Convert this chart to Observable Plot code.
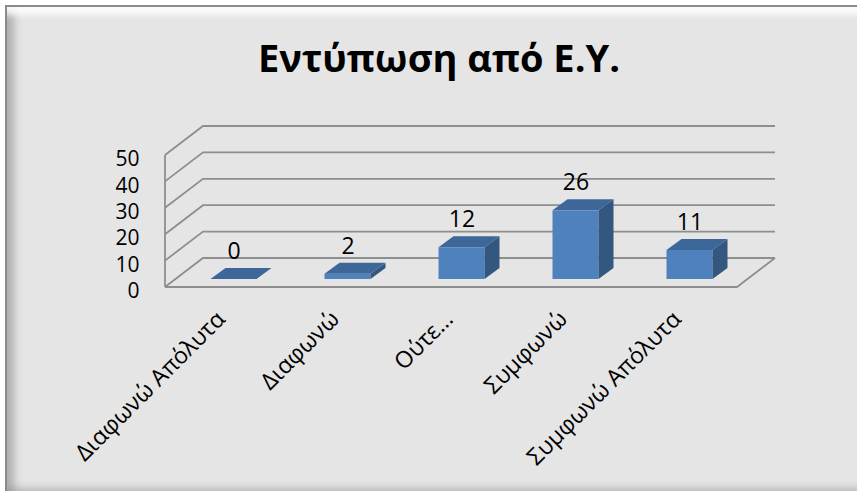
<!DOCTYPE html>
<html>
<head>
<meta charset="utf-8">
<script src="https://cdn.jsdelivr.net/npm/d3@7"></script>
<script src="https://cdn.jsdelivr.net/npm/@observablehq/plot@0.6"></script>
<style>
  html, body { margin: 0; padding: 0; background: #ffffff; }
  #wrap { position: relative; width: 857px; height: 491px; overflow: hidden; font-family: "Open Sans", sans-serif; }
  #frame {
    position: absolute; left: 5px; top: 5px; width: 860px; height: 484px;
    background: #e5e5e5;
    border-left: 2px solid #8a8a8a; border-top: 2px solid #8a8a8a;
    box-shadow: inset 0 14px 6px -6px rgba(255,255,255,0.85),
                inset 13px 0 8px -6px rgba(130,130,130,0.55),
                inset 0 -8px 6px -4px rgba(150,150,150,0.45);
  }
  #title {
    position: absolute; left: 0; top: 38px; width: 878px; text-align: center;
    font-weight: bold; font-size: 38px; line-height: 38px; color: #000;
  }
  #chart { position: absolute; left: 0; top: 95px; }
</style>
</head>
<body>
<div id="wrap">
  <div id="frame"></div>
  <div id="title">Εντύπωση από Ε.Υ.</div>
  <div id="chart"></div>
</div>
<script>
const titleText = "Εντύπωση από Ε.Υ.";
const categories = ["Διαφωνώ Απόλυτα", "Διαφωνώ", "Ούτε…", "Συμφωνώ", "Συμφωνώ Απόλυτα"];
const values = [0, 2, 12, 26, 11];
const yTicks = [0, 10, 20, 30, 40, 50];

const data = categories.map((c, i) => ({cat: c, value: values[i]}));

// 3D look (pixel offsets)
const wallDx = 38, wallDy = -29;       // depth of floor / side wall
const barOx = 10.5, barOy = -8;        // bar front face shift into the floor
const barDx = 15, barDy = -11;         // bar depth
const barInset = 34;
const gridColor = "#8e8e8e";
const frontColor = "#4f81bd", topColor = "#3c6798", sideColor = "#33577f";

function walls(index, scales, values_, dim) {
  const {x, y} = scales;
  const x0 = dim.marginLeft, x1 = dim.width - dim.marginRight;
  const g = d3.create("svg:g").attr("fill", "none").attr("stroke", gridColor).attr("stroke-width", 1.8);
  for (const t of yTicks) {
    const yy = y(t);
    g.append("path").attr("d", `M${x0},${yy}L${x0 + wallDx},${yy + wallDy}L${x1 + wallDx},${yy + wallDy}`);
  }
  g.append("path").attr("d", `M${x0},${y(0)}V${y(yTicks[yTicks.length - 1])}`);
  g.append("path").attr("d", `M${x0},${y(0)}H${x1}l${wallDx},${wallDy}`);
  return g.node();
}

function barSides(index, scales) {
  const {x, y} = scales;
  const bw = x.bandwidth ? x.bandwidth() : 0;
  const g = d3.create("svg:g");
  data.forEach(d => {
    const l = x(d.cat) + barInset + barOx;
    const r = x(d.cat) + bw - barInset + barOx;
    const b = y(0) + barOy, t = y(d.value) + barOy;
    g.append("path").attr("fill", sideColor)
      .attr("d", `M${r},${b}L${r},${t}l${barDx},${barDy}L${r + barDx},${b + barDy}Z`);
    g.append("path").attr("fill", topColor)
      .attr("d", `M${l},${t}L${r},${t}l${barDx},${barDy}L${l + barDx},${t + barDy}Z`);
  });
  return g.node();
}

const plot = Plot.plot({
  width: 857,
  height: 396,
  marginTop: 60,
  marginLeft: 165,
  marginRight: 120,
  marginBottom: 204,
  x: {domain: categories, padding: 0, axis: null},
  y: {domain: [0, 50], axis: null},
  style: {background: "transparent", fontFamily: "Open Sans, sans-serif", overflow: "visible"},
  marks: [
    walls,
    Plot.barY(data, {x: "cat", y: "value", fill: frontColor, insetLeft: barInset, insetRight: barInset, dx: barOx, dy: barOy}),
    barSides,
    Plot.text(data, {x: "cat", y: "value", text: d => String(d.value), dx: barOx, dy: barOy + barDy - 17, fontSize: 23, fill: "#000"}),
    Plot.text(yTicks, {y: d => d, text: d => String(d), frameAnchor: "left", dx: -26, dy: 4, textAnchor: "end", fontSize: 21, fill: "#000"}),
    Plot.text(categories, {x: d => d, text: d => d, frameAnchor: "bottom", dx: 3, dy: 33, rotate: -45, textAnchor: "end", fontSize: 23, fill: "#000"})
  ]
});
document.getElementById("chart").appendChild(plot);
</script>
</body>
</html>
